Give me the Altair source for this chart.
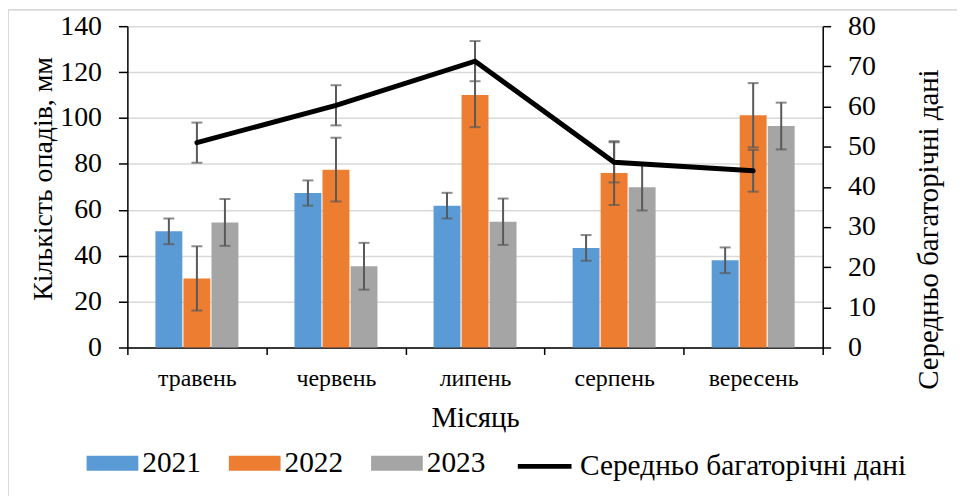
import altair as alt
import pandas as pd

months = ["травень", "червень", "липень", "серпень", "вересень"]
years = ["2021", "2022", "2023"]
v2021 = [50.6, 67.3, 61.8, 43.4, 38.0]
v2022 = [30.1, 77.5, 110.0, 76.0, 101.2]
v2023 = [54.5, 35.4, 54.8, 69.8, 96.5]
e2021 = [5.6, 5.5, 5.6, 5.6, 5.6]
e2022 = [14.0, 13.9, 14.0, 13.9, 14.0]
e2023 = [10.2, 10.2, 10.1, 10.1, 10.2]
avg = [51.0, 60.3, 71.3, 46.1, 44.0]
avg_err = [5.0, 5.0, 5.0, 5.0, 5.2]
avg_name = "Середньо багаторічні дані"

colors = ["#5B9BD5", "#ED7D31", "#A5A5A5"]

rows = []
for yr, vals, errs in zip(years, [v2021, v2022, v2023], [e2021, e2022, e2023]):
    for m, v, e in zip(months, vals, errs):
        rows.append({"month": m, "year": yr, "value": v, "lo": v - e, "hi": v + e})
df = pd.DataFrame(rows)
dfa = pd.DataFrame({"month": months, "avg": avg, "name": [avg_name] * len(months),
                    "lo": [a - e for a, e in zip(avg, avg_err)],
                    "hi": [a + e for a, e in zip(avg, avg_err)]})

FONT = "Liberation Serif, Times New Roman, serif"
ERR = "#595959"

X = alt.X("month:N", sort=months,
          scale=alt.Scale(paddingInner=0, paddingOuter=0),
          axis=alt.Axis(title="Місяць", tickBand="extent", labelFontSize=24,
                        labelPadding=12, tickSize=7, titleFontSize=29,
                        titleY=79, titleBaseline="alphabetic", labelAngle=0))
XO = alt.XOffset("year:N", sort=years, scale=alt.Scale(paddingInner=0.04, paddingOuter=1))
YL = alt.Scale(domain=[0, 140])
YR = alt.Scale(domain=[0, 80])
left_axis = alt.Axis(title="Кількість опадів, мм", values=list(range(0, 141, 20)),
                     grid=True, gridColor="#D9D9D9", gridWidth=1.5,
                     tickSize=9, labelPadding=17, labelFontSize=28,
                     titleFontSize=28, titleAngle=270, titleX=-76, titleY=153,
                     titleBaseline="alphabetic", titleAlign="center")
right_axis = alt.Axis(title=avg_name, orient="right", values=list(range(0, 81, 10)),
                      grid=False, tickSize=8, labelPadding=17, labelFontSize=28,
                      titleFontSize=29, titleAngle=270, titleX=115, titleY=204,
                      titleBaseline="alphabetic", titleAlign="center")

bar_legend = alt.Legend(
    title=None, orient="none", legendX=-41, legendY=413, direction="horizontal",
    labelFont=FONT, labelFontSize=29.5, labelColor="black", labelOffset=4,
    symbolSize=2704, columnPadding=28, padding=0, symbolStrokeWidth=0,
    symbolType="M-1,-0.29H1V0.29H-1Z", labelLimit=0,
)
line_legend = alt.Legend(
    title=None, orient="none", legendX=390, legendY=413, direction="horizontal",
    labelFont=FONT, labelFontSize=29.5, labelColor="black", labelOffset=6,
    symbolSize=2916, padding=0, symbolType="stroke", symbolStrokeWidth=5,
    symbolStrokeColor="black", labelLimit=0,
)

bars = alt.Chart(df).mark_bar().encode(
    x=X, xOffset=XO,
    y=alt.Y("value:Q", scale=YL, axis=left_axis),
    color=alt.Color("year:N", scale=alt.Scale(domain=years, range=colors), legend=bar_legend),
)
bar_err = alt.Chart(df).mark_rule(color=ERR, strokeWidth=2).encode(
    x=X, xOffset=XO, y=alt.Y("lo:Q", scale=YL), y2="hi:Q")
bar_cap_lo = alt.Chart(df).mark_tick(color=ERR, thickness=2, size=11).encode(
    x=X, xOffset=XO, y=alt.Y("lo:Q", scale=YL))
bar_cap_hi = alt.Chart(df).mark_tick(color=ERR, thickness=2, size=11).encode(
    x=X, xOffset=XO, y=alt.Y("hi:Q", scale=YL))
frame_top = alt.Chart(dfa).mark_rule(color="#D9D9D9", strokeWidth=1.2).encode(
    x=alt.value(-120), x2=alt.value(840), y=alt.value(-16.5))
frame_left = alt.Chart(dfa).mark_rule(color="#D9D9D9", strokeWidth=1.2).encode(
    x=alt.value(-120), y=alt.value(-16.5), y2=alt.value(480))

left = alt.layer(bars, bar_err, bar_cap_lo, bar_cap_hi, frame_top, frame_left)

line = alt.Chart(dfa).mark_line(strokeWidth=5, strokeCap="round", strokeJoin="miter").encode(
    x=X, y=alt.Y("avg:Q", scale=YR, axis=right_axis),
    stroke=alt.Stroke("name:N", scale=alt.Scale(domain=[avg_name], range=["black"]), legend=line_legend))
line_err = alt.Chart(dfa).mark_rule(color=ERR, strokeWidth=2).encode(
    x=X, y=alt.Y("lo:Q", scale=YR), y2="hi:Q")
line_cap_lo = alt.Chart(dfa).mark_tick(color=ERR, thickness=2, size=11).encode(
    x=X, y=alt.Y("lo:Q", scale=YR))
line_cap_hi = alt.Chart(dfa).mark_tick(color=ERR, thickness=2, size=11).encode(
    x=X, y=alt.Y("hi:Q", scale=YR))

right = alt.layer(line_err, line_cap_lo, line_cap_hi, line)

chart = alt.layer(left, right).resolve_scale(y="independent").properties(
    width=699, height=323,
    autosize=alt.AutoSizeParams(type="none"),
    padding={"left": 120, "top": 17, "right": 135, "bottom": 148},
    background="white",
).configure_view(stroke=None).configure_axis(
    labelFont=FONT, titleFont=FONT, labelColor="black", titleColor="black",
    domainColor="black", tickColor="black", domainWidth=1.5, tickWidth=1.5,
    titleFontWeight="normal",
).configure_legend(labelFont=FONT)

chart.save("out.html", embed_options={"renderer": "svg", "actions": False})
